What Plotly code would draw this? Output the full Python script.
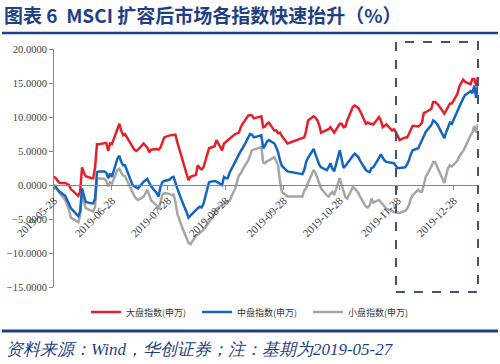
import plotly.graph_objects as go

dates = [
    "2019-05-28", "2019-05-29", "2019-05-30", "2019-05-31", "2019-06-03", "2019-06-04", "2019-06-05", "2019-06-06",
    "2019-06-10", "2019-06-11", "2019-06-12", "2019-06-13", "2019-06-14", "2019-06-17", "2019-06-18", "2019-06-19",
    "2019-06-20", "2019-06-21", "2019-06-24", "2019-06-25", "2019-06-26", "2019-06-27", "2019-06-28",
    "2019-07-01", "2019-07-02", "2019-07-03", "2019-07-04", "2019-07-05", "2019-07-08", "2019-07-09", "2019-07-10",
    "2019-07-11", "2019-07-12", "2019-07-15", "2019-07-16", "2019-07-17", "2019-07-18", "2019-07-19", "2019-07-22",
    "2019-07-23", "2019-07-24", "2019-07-25", "2019-07-26", "2019-07-29", "2019-07-30", "2019-07-31",
    "2019-08-01", "2019-08-02", "2019-08-05", "2019-08-06", "2019-08-07", "2019-08-08", "2019-08-09", "2019-08-12",
    "2019-08-13", "2019-08-14", "2019-08-15", "2019-08-16", "2019-08-19", "2019-08-20", "2019-08-21", "2019-08-22",
    "2019-08-23", "2019-08-26", "2019-08-27", "2019-08-28", "2019-08-29", "2019-08-30",
    "2019-09-02", "2019-09-03", "2019-09-04", "2019-09-05", "2019-09-06", "2019-09-09", "2019-09-10", "2019-09-11",
    "2019-09-12", "2019-09-16", "2019-09-17", "2019-09-18", "2019-09-19", "2019-09-20", "2019-09-23", "2019-09-24",
    "2019-09-25", "2019-09-26", "2019-09-27", "2019-09-30",
    "2019-10-08", "2019-10-09", "2019-10-10", "2019-10-11", "2019-10-14", "2019-10-15", "2019-10-16", "2019-10-17",
    "2019-10-18", "2019-10-21", "2019-10-22", "2019-10-23", "2019-10-24", "2019-10-25", "2019-10-28", "2019-10-29",
    "2019-10-30", "2019-10-31",
    "2019-11-01", "2019-11-04", "2019-11-05", "2019-11-06", "2019-11-07", "2019-11-08", "2019-11-11", "2019-11-12",
    "2019-11-13", "2019-11-14", "2019-11-15", "2019-11-18", "2019-11-19", "2019-11-20", "2019-11-21", "2019-11-22",
    "2019-11-25", "2019-11-26", "2019-11-27", "2019-11-28", "2019-11-29",
    "2019-12-02", "2019-12-03", "2019-12-04", "2019-12-05", "2019-12-06", "2019-12-09", "2019-12-10", "2019-12-11",
    "2019-12-12", "2019-12-13", "2019-12-16", "2019-12-17", "2019-12-18", "2019-12-19", "2019-12-20", "2019-12-23",
    "2019-12-24", "2019-12-25", "2019-12-26", "2019-12-27", "2019-12-30", "2019-12-31",
    "2020-01-02", "2020-01-03", "2020-01-06", "2020-01-07", "2020-01-08", "2020-01-09", "2020-01-10",
]

large_cap = [
    1.2, 1.0, 0.6, 0.3, 0.3, 0.1, 0.0, -0.6,
    -1.6, -1.0, 2.6, 1.8, 1.3, 1.0, 1.0, 2.6,
    6.0, 6.0, 6.1, 6.2, 5.0, 6.1, 6.0,
    8.5, 9.0, 8.0, 7.3, 7.5, 6.0, 5.5, 5.2,
    5.0, 5.2, 6.1, 5.8, 5.5, 4.8, 5.2, 5.3,
    5.2, 5.5, 6.2, 7.0, 7.3, 7.3, 7.4,
    7.4, 6.3, 3.5, 2.5, 1.8, 0.7, 1.2, 1.5,
    2.9, 2.5, 2.3, 2.6, 5.4, 5.5, 5.5, 5.7,
    6.6, 5.1, 6.1, 6.3, 6.5, 6.8,
    7.5, 7.6, 7.7, 8.5, 9.0, 10.2, 10.3, 10.2,
    9.8, 10.1, 8.5, 8.6, 9.0, 9.2, 8.0, 8.0,
    7.6, 7.7, 7.2, 6.1,
    6.8, 7.0, 8.0, 9.5, 10.1, 9.9, 9.5, 8.8,
    7.7, 8.0, 8.2, 8.5, 8.0, 7.7, 9.0, 9.0,
    8.5, 8.6,
    9.5, 11.5, 11.7, 11.5, 11.3, 10.8, 9.0, 9.2,
    9.0, 9.0, 8.9, 10.0, 9.5, 8.5, 8.7, 8.9,
    8.0, 8.2, 7.8, 7.3, 6.6,
    7.0, 7.0, 7.5, 8.2, 8.7, 8.6, 8.8, 9.2,
    10.6, 10.7, 11.2, 12.2, 12.2, 12.0, 11.7, 10.5,
    11.0, 11.5, 12.0, 12.0, 13.4, 14.5,
    15.5, 15.2, 14.8, 15.6, 15.6, 14.6, 15.9,
]

mid_cap = [
    0.0, -0.3, -0.6, -1.0, -1.6, -2.2, -2.6, -3.4,
    -4.6, -3.9, -0.5, -1.7, -2.5, -2.7, -2.7, -2.0,
    1.9, 2.0, 2.0, 1.8, 1.0, 1.7, 1.2,
    3.9, 4.3, 3.4, 2.9, 2.9, 0.8, 0.0, -0.2,
    -0.4, -0.5, 0.5, 0.7, 0.9, 0.3, -0.2, -1.2,
    -1.7, -0.3, 0.4, 0.6, 0.8, 1.1, 1.2,
    0.4, -0.5, -2.7, -3.3, -4.0, -4.8, -4.5, -3.6,
    -3.4, -3.2, -3.3, -2.8, 0.4, 0.5, 0.6, 0.6,
    0.5, 0.0, 1.2, 1.0, 1.0, 1.8,
    3.4, 4.0, 4.6, 5.0, 5.4, 7.0, 7.5, 7.4,
    7.0, 7.3, 5.4, 5.8, 6.4, 6.6, 6.1, 5.5,
    4.8, 3.6, 2.8, 2.0,
    1.6, 2.2, 3.4, 4.0, 5.3, 4.5, 3.6, 3.0,
    2.6, 2.2, 2.6, 3.2, 2.4, 2.0, 5.1, 4.0,
    2.5, 2.8,
    3.2, 4.3, 4.6, 4.4, 4.1, 3.5, 2.2, 2.0,
    1.9, 2.5, 2.6, 4.0, 4.5, 4.0, 3.6, 3.4,
    3.2, 3.2, 2.8, 2.5, 2.5,
    2.6, 3.0, 3.6, 4.5, 5.1, 5.4, 6.0, 6.8,
    7.3, 7.8, 8.8, 9.5, 9.3, 9.0, 8.5, 6.9,
    7.8, 8.6, 9.2, 9.0, 10.7, 11.5,
    12.7, 13.2, 13.8, 13.5, 14.6, 12.8, 14.9,
]

small_cap = [
    0.0, -0.3, -0.8, -1.2, -2.2, -3.0, -3.6, -4.8,
    -5.5, -4.6, -1.0, -2.5, -3.4, -3.8, -3.9, -3.2,
    1.0, 1.0, 0.9, 0.6, -0.2, 0.4, 0.2,
    2.2, 2.4, 1.8, 1.4, 1.3, -0.5, -1.2, -1.6,
    -2.0, -2.2, -1.7, -1.2, -0.7, -1.5, -2.3, -3.0,
    -3.6, -2.5, -1.5, -1.2, -1.3, -1.5, -1.4,
    -2.5, -4.2, -6.5, -7.2, -7.8, -8.5, -8.7, -7.5,
    -7.3, -7.0, -6.8, -6.6, -5.5, -5.0, -4.6, -4.3,
    -3.5, -2.9, -2.7, -2.5, -2.4, -2.3,
    -0.5, 0.5, 1.4, 1.7, 2.3, 3.6, 4.5, 5.1,
    5.2, 5.6, 3.3, 3.2, 3.5, 3.6, 4.1, 3.5,
    2.9, 0.5, -1.0, -1.7,
    -1.7, -0.8, -0.5, 0.3, 2.2, 1.8, 1.0, 0.2,
    -0.5, -1.5, -1.7, -1.3, -1.0, -1.5, 1.0, 0.0,
    -1.0, -1.8,
    -2.0, -0.3, -0.5, -0.8, -1.2, -1.8, -3.2, -3.3,
    -3.0, -2.0, -2.6, -2.2, -2.5, -2.9, -3.2, -3.5,
    -3.8, -4.0, -4.0, -4.0, -4.1,
    -3.8, -3.5, -3.0, -2.0, -1.5, -0.7, -1.0, -1.0,
    0.0, 1.2, 2.7, 3.4, 3.4, 2.8, 2.2, 0.3,
    1.5, 2.5, 2.9, 2.7, 3.6, 4.2,
    5.0, 5.5, 7.3, 7.7, 8.7, 7.7, 9.0,
]

series_names = ["大盘指数(申万)", "中盘指数(申万)", "小盘指数(申万)"]
tick_dates = ["2019-05-28", "2019-06-28", "2019-07-28", "2019-08-28", "2019-09-28",
              "2019-10-28", "2019-11-28", "2019-12-28"]
y_ticks = [-15, -10, -5, 0, 5, 10, 15, 20]

title_text = "图表 6  MSCI 扩容后市场各指数快速抬升（%）"
source_text = "资料来源：Wind，华创证券；注：基期为2019-05-27"

# ---- layout geometry (pixels in a 500x364 page) ----
W, H = 500, 364
L, R, T, B = 54, 22, 49, 77
PW, PH = W - L - R, H - T - B


def px(xp):
    return (xp - L) / PW


def py(yp):
    return (H - B - yp) / PH


NAVY = "#1f3f86"
RED = "#e3212b"
BLUE = "#1565c0"
GRAY = "#a6a6a6"
AXIS = "#868686"
TXT = "#404040"

fig = go.Figure()
fig.add_trace(go.Scatter(x=dates, y=small_cap, name=series_names[2], mode="lines",
                         line=dict(color=GRAY, width=2.5), legendrank=3))
fig.add_trace(go.Scatter(x=dates, y=large_cap, name=series_names[0], mode="lines",
                         line=dict(color=RED, width=2.5), legendrank=1))
fig.add_trace(go.Scatter(x=dates, y=mid_cap, name=series_names[1], mode="lines",
                         line=dict(color=BLUE, width=2.5), legendrank=2))

y_min, y_max = -15, 20

fig.update_layout(
    width=W, height=H,
    margin=dict(l=L, r=R, t=T, b=B, pad=0, autoexpand=False),
    paper_bgcolor="white", plot_bgcolor="white",
    showlegend=True,
    legend=dict(orientation="h", x=px(86), xanchor="left", y=py(312), yanchor="middle",
                font=dict(family="Noto Sans CJK SC", size=9, color="#333333"),
                entrywidth=66, itemwidth=30, tracegroupgap=0, traceorder="normal"),
    title=dict(text=title_text, xref="container", yref="container", x=4 / W, xanchor="left",
               y=1 - 16 / H, yanchor="middle", automargin=False,
               font=dict(family="Noto Sans CJK SC", size=19, color=NAVY, weight="bold")),
    xaxis=dict(type="date", range=[dates[0], dates[-1]], anchor="free", automargin=False,
               position=(0 - y_min) / (y_max - y_min),
               showgrid=False, zeroline=False, showline=True, linecolor=AXIS, linewidth=1,
               ticks="outside", ticklen=4, tickcolor=AXIS,
               tickvals=tick_dates, ticktext=tick_dates, tickangle=-45,
               tickfont=dict(family="Liberation Serif", size=11, color=TXT)),
    yaxis=dict(range=[y_min, y_max], tickvals=y_ticks, tickformat=".4f", automargin=False,
               showgrid=False, zeroline=False, showline=True, linecolor=AXIS, linewidth=1,
               ticks="outside", ticklen=4, tickcolor=AXIS,
               tickfont=dict(family="Liberation Serif", size=10.5, color=TXT)),
    shapes=[
        dict(type="line", xref="paper", yref="paper", x0=px(2), x1=px(498), y0=py(33), y1=py(33),
             line=dict(color=NAVY, width=2.5)),
        dict(type="line", xref="paper", yref="paper", x0=px(2), x1=px(498), y0=py(331), y1=py(331),
             line=dict(color=NAVY, width=3)),
        dict(type="rect", xref="paper", yref="paper", x0=px(396), x1=px(478), y0=py(292), y1=py(42),
             line=dict(color="#44546a", width=2, dash="dash"), fillcolor="rgba(0,0,0,0)"),
    ],
    annotations=[
        dict(text=source_text, xref="paper", yref="paper", x=px(4), y=py(349), xanchor="left",
             yanchor="middle", showarrow=False,
             font=dict(family="Liberation Serif", size=17, color=NAVY, style="italic")),
    ],
)

fig.write_html("out.html", config={"displayModeBar": False},
               post_script="document.body.style.margin='0';document.body.style.overflow='hidden';")
